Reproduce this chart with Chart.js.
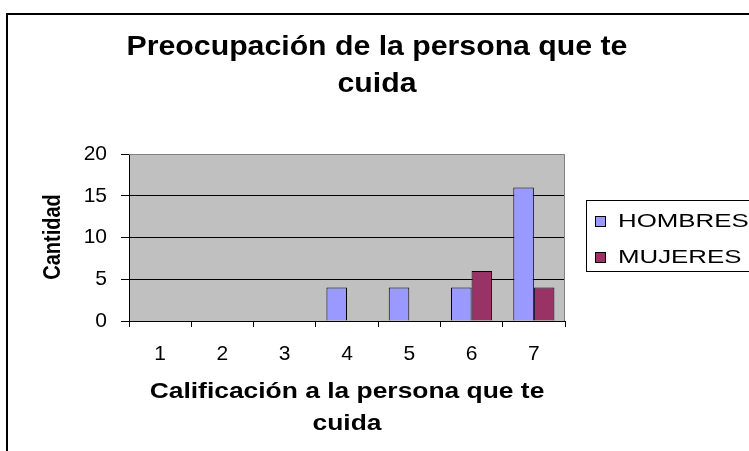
<!DOCTYPE html>
<html>
<head>
<meta charset="utf-8">
<script src="https://cdn.jsdelivr.net/npm/chart.js@4.4.0/dist/chart.umd.min.js"></script>
<style>
  html, body { margin: 0; padding: 0; background: #fff; }
  #wrap { position: relative; width: 749px; height: 451px; }
</style>
</head>
<body>
<div id="wrap"><canvas id="grafCuidado"></canvas></div>
<script>
// datos
const categorias = ['1', '2', '3', '4', '5', '6', '7'];
const datosHombres = [0, 0, 0, 4, 4, 4, 16];
const datosMujeres = [0, 0, 0, 0, 0, 6, 4];
const nombresSeries = ['HOMBRES', 'MUJERES'];
const coloresSeries = ['#9999ff', '#993366'];
const ticksY = [0, 5, 10, 15, 20];
const titulo = ['Preocupación de la persona que te', 'cuida'];
const tituloX = ['Calificación a la persona que te', 'cuida'];
const tituloY = 'Cantidad';

const fuente = '"Liberation Sans", Arial, sans-serif';

// texto algo estirado a lo ancho, como en la imagen original
function escribir(ctx, str, x, y, size, bold, sx, align) {
  ctx.save();
  ctx.font = (bold ? 'bold ' : '') + size + 'px ' + fuente;
  ctx.textAlign = align || 'center';
  ctx.textBaseline = 'middle';
  ctx.fillStyle = '#000';
  ctx.translate(x, y);
  ctx.scale(sx, 1);
  ctx.fillText(str, 0, 0);
  ctx.restore();
}

const decorado = {
  id: 'decorado',
  beforeDraw(chart) {
    const { ctx, chartArea: a } = chart;
    ctx.save();
    ctx.fillStyle = '#fff';
    ctx.fillRect(0, 0, chart.width, chart.height);
    ctx.fillStyle = '#c0c0c0';
    ctx.fillRect(a.left, a.top, a.right - a.left, a.bottom - a.top);
    ctx.restore();
  },
  afterDraw(chart) {
    const { ctx, chartArea: a } = chart;
    ctx.save();
    // borde gris del area de trazado (arriba y derecha)
    ctx.strokeStyle = '#808080';
    ctx.lineWidth = 1;
    ctx.beginPath();
    ctx.moveTo(a.left, a.top + 0.5);
    ctx.lineTo(a.right - 0.5, a.top + 0.5);
    ctx.lineTo(a.right - 0.5, a.bottom);
    ctx.stroke();

    // marco exterior
    ctx.strokeStyle = '#000';
    ctx.lineWidth = 2;
    ctx.strokeRect(7, 14, 800, 500);

    // titulos
    escribir(ctx, titulo[0], 377, 48, 27, true, 1.12);
    escribir(ctx, titulo[1], 377, 85, 27, true, 1.12);
    const cx = (a.left + a.right) / 2;
    escribir(ctx, tituloX[0], cx, 392, 22, true, 1.2);
    escribir(ctx, tituloX[1], cx, 424, 22, true, 1.2);

    ctx.save();
    ctx.translate(53, 237);
    ctx.rotate(-Math.PI / 2);
    ctx.scale(1, 1.2);
    ctx.font = 'bold 20px ' + fuente;
    ctx.textAlign = 'center';
    ctx.textBaseline = 'middle';
    ctx.fillStyle = '#000';
    ctx.fillText(tituloY, 0, 0);
    ctx.restore();

    // leyenda
    ctx.lineWidth = 1;
    ctx.strokeStyle = '#000';
    ctx.strokeRect(586.5, 200.5, 200, 71);
    chart.data.datasets.forEach((ds, i) => {
      const y = 222 + i * 36;
      ctx.fillStyle = ds.backgroundColor;
      ctx.fillRect(595.5, y - 5.5, 10, 10);
      ctx.strokeRect(595.5, y - 5.5, 10, 10);
      escribir(ctx, ds.label, 618, y, 19, false, 1.36, 'left');
    });
    ctx.restore();
  }
};

new Chart(document.getElementById('grafCuidado'), {
  type: 'bar',
  data: {
    labels: categorias,
    datasets: [
      { label: nombresSeries[0], data: datosHombres, backgroundColor: coloresSeries[0] },
      { label: nombresSeries[1], data: datosMujeres, backgroundColor: coloresSeries[1] }
    ]
  },
  options: {
    responsive: true,
    maintainAspectRatio: false,
    animation: false,
    layout: { padding: { left: 0, top: 154, right: 184, bottom: 0 } },
    datasets: {
      bar: { borderColor: '#000', borderWidth: 1, categoryPercentage: 0.66, barPercentage: 1 }
    },
    plugins: {
      legend: { display: false },
      title: { display: false },
      tooltip: { enabled: false }
    },
    scales: {
      x: {
        grid: { drawOnChartArea: false, color: '#000', tickColor: '#000', tickLength: 6, offset: true },
        border: { color: '#000', width: 1 },
        ticks: { color: '#000', font: { family: fuente, size: 21 }, padding: 15, maxRotation: 0 },
        afterFit(s) { s.height = 130; }
      },
      y: {
        min: 0,
        max: 20,
        afterBuildTicks(s) { s.ticks = ticksY.map(v => ({ value: v })); },
        grid: {
          color: c => (c.tick && c.tick.value === 20 ? 'rgba(0,0,0,0)' : '#000'),
          tickColor: '#000',
          tickLength: 8
        },
        border: { color: '#000', width: 1 },
        ticks: { color: '#000', font: { family: fuente, size: 21 }, padding: 14 },
        afterFit(s) { s.width = 129; }
      }
    }
  },
  plugins: [decorado]
});
</script>
</body>
</html>
